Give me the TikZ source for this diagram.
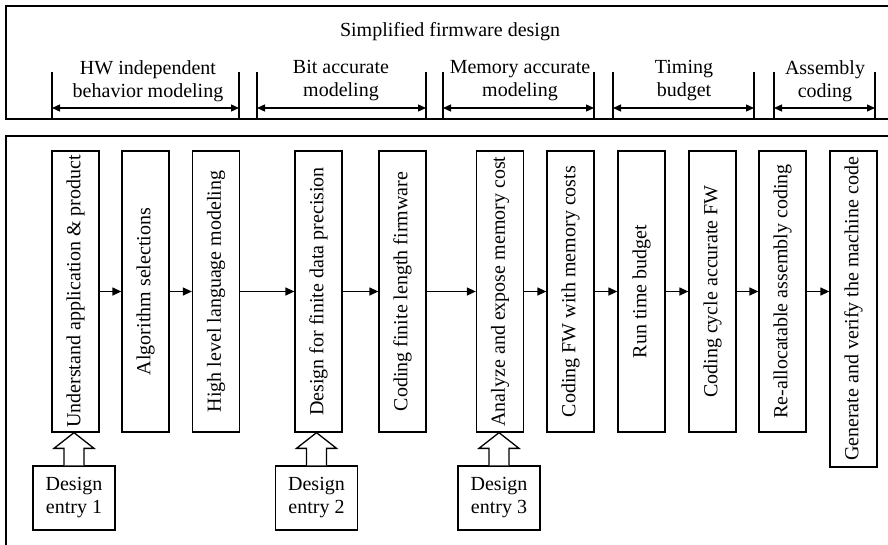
\documentclass[tikz,border=0pt]{standalone}
\usepackage{fontspec}
\setmainfont{Liberation Serif}
\usetikzlibrary{arrows.meta,calc}

\begin{document}
\begin{tikzpicture}[
  x=1pt, y=-1pt,
  font=\fontsize{20}{23}\selectfont,
  line width=1.3pt,
  stage/.style={draw, rotate=90, minimum width=281pt, minimum height=47pt, inner sep=0pt},
  entry/.style={draw, fill=white, minimum width=82pt, minimum height=64pt, align=center, inner sep=0pt},
  phase/.style={align=center, inner sep=0pt},
  flow/.style={-{Triangle[length=9pt,width=8pt]}},
  span/.style={{Triangle[length=8pt,width=7pt]}-{Triangle[length=8pt,width=7pt]}},
  fat/.style={draw, fill=white, line join=miter}
]
\useasboundingbox (0,0) rectangle (888,544);
\clip (0,0) rectangle (888,544);

% frames
\draw (6,6) rectangle (900,119);
\draw (6,136) rectangle (900,560);

% phases
\node (title) at (450,32) {Simplified firmware design};
\node[phase] (hw)   at (148,81) {HW independent\\behavior modeling};
\node[phase] (bit)  at (341,81) {Bit accurate\\modeling};
\node[phase] (mem)  at (520,81) {Memory accurate\\modeling};
\node[phase] (time) at (684,81) {Timing\\budget};
\node[phase] (asm)  at (825,81) {Assembly\\coding};

\coordinate (hw-l)   at (52,108);  \coordinate (hw-r)   at (239,108);
\coordinate (bit-l)  at (257,108); \coordinate (bit-r)  at (426,108);
\coordinate (mem-l)  at (443,108); \coordinate (mem-r)  at (594,108);
\coordinate (time-l) at (613,108); \coordinate (time-r) at (754,108);
\coordinate (asm-l)  at (774,108); \coordinate (asm-r)  at (875,108);

\foreach \c in {hw-l,hw-r,bit-l,bit-r,mem-l,mem-r,time-l,time-r,asm-l,asm-r}
  \draw ($(\c)+(0,-36)$) -- ($(\c)+(0,11)$);

\draw[span] (hw-l) -- (hw-r);
\draw[span] (bit-l) -- (bit-r);
\draw[span] (mem-l) -- (mem-r);
\draw[span] (time-l) -- (time-r);
\draw[span] (asm-l) -- (asm-r);

% design steps
\node[stage] (b1)  at (75.5,291.5)  {Understand application \& product};
\node[stage] (b2)  at (145.5,291.5) {Algorithm selections};
\node[stage] (b3)  at (216,291.5)   {High level language modeling};
\node[stage] (b4)  at (318.5,291.5) {Design for finite data precision};
\node[stage] (b5)  at (402.5,291.5) {Coding finite length firmware};
\node[stage] (b6)  at (500,291.5)   {Analyze and expose memory cost};
\node[stage] (b7)  at (570.5,291.5) {Coding FW with memory costs};
\node[stage] (b8)  at (641.5,291.5) {Run time budget};
\node[stage] (b9)  at (712.5,291.5) {Coding cycle accurate FW};
\node[stage] (b10) at (782.5,291.5) {Re-allocatable assembly coding};
\node[stage, minimum width=316pt] (b11) at (853.5,309) {Generate and verify the machine code};

\draw[flow] (b1) -- (b2);
\draw[flow] (b2) -- (b3);
\draw[flow] (b3) -- (b4);
\draw[flow] (b4) -- (b5);
\draw[flow] (b5) -- (b6);
\draw[flow] (b6) -- (b7);
\draw[flow] (b7) -- (b8);
\draw[flow] (b8) -- (b9);
\draw[flow] (b9) -- (b10);
\draw[flow] (b10) -- (b10 -| b11.north);

% design entries
\node[entry] (e1) at (74,498)    {Design\\entry 1};
\node[entry] (e2) at (316.5,498) {Design\\entry 2};
\node[entry] (e3) at (499,498)   {Design\\entry 3};

\draw[fat] ($(e1.north)+(-10,0)$) -- ++(0,-17) -- ++(-10,0) -- (e1.north |- b1.west)
  -- ($(e1.north)+(20,-17)$) -- ++(-10,0) -- ++(0,17);
\draw[fat] ($(e2.north)+(-10,0)$) -- ++(0,-17) -- ++(-10,0) -- (e2.north |- b4.west)
  -- ($(e2.north)+(20,-17)$) -- ++(-10,0) -- ++(0,17);
\draw[fat] ($(e3.north)+(-10,0)$) -- ++(0,-17) -- ++(-10,0) -- (e3.north |- b6.west)
  -- ($(e3.north)+(20,-17)$) -- ++(-10,0) -- ++(0,17);
\end{tikzpicture}
\end{document}
